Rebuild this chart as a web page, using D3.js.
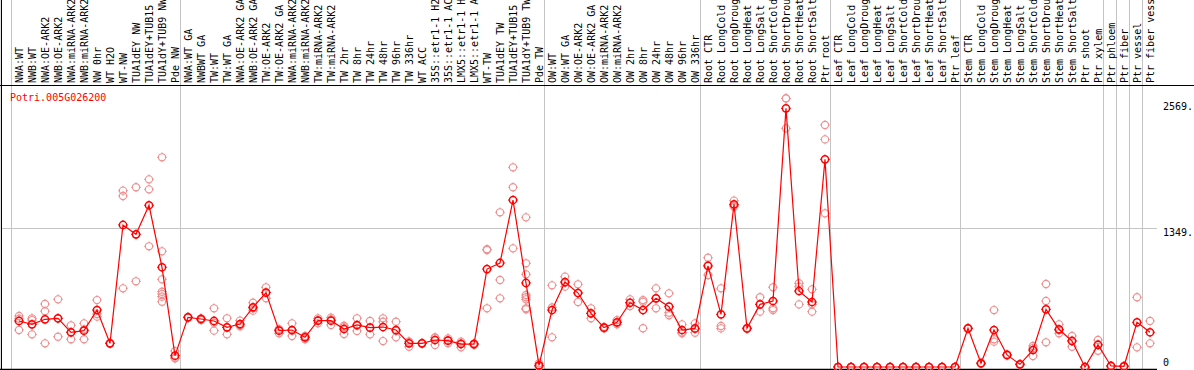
<!DOCTYPE html>
<html>
<head>
<meta charset="utf-8">
<script src="https://cdn.jsdelivr.net/npm/d3@7"></script>
<style>
  body { margin: 0; background: #fff; }
  text { font-family: "DejaVu Sans Mono", monospace; font-size: 10px; }
</style>
</head>
<body>
<svg id="chart" width="1194" height="370"></svg>
<script>
// Data
var geneName = "Potri.005G026200";

var samples = [
  "NWA:WT", "NWB:WT", "NWA:OE-ARK2", "NWB:OE-ARK2", "NWA:miRNA-ARK2", "NWB:miRNA-ARK2",
  "NW 0hr", "WT H2O", "WT-NW", "TUA1dEY NW", "TUA1dEY+TUB15 NW", "TUA1dY+TUB9 NW", "Pde NW",
  "NWA:WT GA", "NWBWT GA", "TW:WT", "TW:WT GA", "NWA:OE-ARK2 GA", "NWB:OE-ARK2 GA",
  "TW:OE-ARK2", "TW:OE-ARK2 GA", "NWA:miRNA-ARK2 GA", "NWB:miRNA-ARK2 GA", "TW:miRNA-ARK2",
  "TW:miRNA-ARK2 GA", "TW 2hr", "TW 8hr", "TW 24hr", "TW 48hr", "TW 96hr", "TW 336hr",
  "WT ACC", "35S::etr1-1 H2O", "35S::etr1-1 ACC", "LMX5::etr1-1 H2O", "LMX5::etr1-1 ACC",
  "WT-TW", "TUA1dEY TW", "TUA1dEY+TUB15 TW", "TUA1dY+TUB9 TW", "Pde TW",
  "OW:WT", "OW:WT GA", "OW:OE-ARK2", "OW:OE-ARK2 GA", "OW:miRNA-ARK2", "OW:miRNA-ARK2 GA",
  "OW 2hr", "OW 8hr", "OW 24hr", "OW 48hr", "OW 96hr", "OW 336hr",
  "Root CTR", "Root LongCold", "Root LongDrought", "Root LongHeat", "Root LongSalt",
  "Root ShortCold", "Root ShortDrought", "Root ShortHeat", "Root ShortSalt", "Ptr root",
  "Leaf CTR", "Leaf LongCold", "Leaf LongDrought", "Leaf LongHeat", "Leaf LongSalt",
  "Leaf ShortCold", "Leaf ShortDrought", "Leaf ShortHeat", "Leaf ShortSalt", "Ptr leaf",
  "Stem CTR", "Stem LongCold", "Stem LongDrought", "Stem LongHeat", "Stem LongSalt",
  "Stem ShortCold", "Stem ShortDrought", "Stem ShortHeat", "Stem ShortSalt",
  "Ptr shoot", "Ptr xylem", "Ptr phloem", "Ptr fiber", "Ptr vessel", "Ptr fiber vessel"
];

// first sample index of every group (separator lines)
var groupStarts = [0, 13, 41, 53, 63, 73, 84, 85, 86, 87, 88];

var means = [
  447, 414, 463, 473, 337, 353, 553, 230, 1379, 1288, 1570, 968, 110,
  482, 466, 447, 385, 417, 580, 722, 353, 359, 288, 450, 450, 369, 408, 382, 388, 359, 230,
  230, 262, 256, 223, 223, 951, 1010, 1621, 816, 16,
  553, 825, 718, 521, 382, 434, 624, 553, 667, 586, 359, 375,
  981, 511, 1579, 375, 608, 641, 2511, 738, 631, 2016,
  0, 0, 0, 0, 0, 0, 0, 0, 0, 0,
  375, 36, 359, 117, 26, 165, 560, 366, 252,
  0, 214, 10, 7, 434, 337
];

var replicates = [
  [495, 469, 359], [473, 456, 317], [612, 541, 230], [657, 294, 470], [405, 269, 337],
  [424, 269, 365], [650, 515, 489], [230, 232, 228], [1712, 1660, 764], [1745, 832, 1288],
  [1822, 1725, 1172], [2036, 1123, 851, 731, 709, 683, 634], [155, 84, 90],
  [482, 486, 478], [473, 456, 470], [570, 430, 353], [473, 317, 385], [450, 408, 395],
  [624, 547, 570], [774, 667, 725], [366, 327, 366], [424, 301, 352], [301, 269, 294],
  [473, 424, 453], [479, 408, 463], [401, 320, 386], [473, 350, 401], [447, 317, 382],
  [473, 440, 252], [440, 288, 349], [246, 197, 247],
  [228, 232, 230], [288, 214, 284], [278, 230, 260], [246, 191, 232], [230, 214, 225],
  [1143, 1136, 570], [1502, 845, 667], [1939, 1745, 1152],
  [1453, 1007, 900, 699, 677, 657, 570, 560], [36, 3, 9],
  [793, 288, 578], [877, 780, 818], [803, 631, 720], [570, 473, 520], [390, 375, 381],
  [456, 414, 432], [657, 592, 623], [650, 634, 376], [764, 570, 667], [715, 527, 502],
  [414, 327, 336], [424, 333, 368],
  [1061, 893, 990], [764, 398, 375], [1615, 1566, 1556], [380, 370, 375], [677, 537, 610],
  [774, 570, 553], [2608, 2317, 2608], [813, 780, 608], [754, 608, 537], [2350, 2210, 1492],
  [0, 0, 0], [0, 0, 0], [0, 0, 0], [0, 0, 0], [0, 0, 0],
  [0, 0, 0], [0, 0, 0], [0, 0, 0], [0, 0, 0], [0, 0, 0],
  [380, 370, 375], [40, 30, 38], [553, 269, 246], [120, 110, 121], [30, 20, 28],
  [204, 107, 184], [806, 641, 240], [414, 327, 357], [301, 197, 258],
  [0, 0, 0], [262, 158, 222], [10, 12, 8], [7, 12, 2], [677, 191], [447, 230]
];

var yTicks = [2569, 1349, 0];
var yGrid = [1349];

// Dimensions
var width = 1194;
var height = 370;
var plotTop = 85;
var plotBottom = 369;
var plotRight = 1156;

var svg = d3.select("#chart");

var x = d3.scaleBand()
  .domain(d3.range(samples.length))
  .range([11, 11 + 13 * samples.length]);

function cx(i) { return x(i) + 8; }

var y = d3.scaleLinear()
  .domain([0, 2569])
  .range([367, 102.4]);

// group separators, they run through the label area too
svg.append("g")
  .selectAll("line")
  .data(groupStarts)
  .enter().append("line")
  .attr("x1", function(d) { return x(d) + 0.5; })
  .attr("x2", function(d) { return x(d) + 0.5; })
  .attr("y1", 0)
  .attr("y2", height)
  .attr("stroke", "#c4c4c4")
  .attr("stroke-width", 1);

svg.append("g")
  .selectAll("line")
  .data(yGrid)
  .enter().append("line")
  .attr("x1", 1)
  .attr("x2", plotRight + 1)
  .attr("y1", function(d) { return Math.round(y(d)) + 0.5; })
  .attr("y2", function(d) { return Math.round(y(d)) + 0.5; })
  .attr("stroke", "#c4c4c4");

// frame
svg.append("line")
  .attr("x1", 0).attr("x2", width)
  .attr("y1", plotTop + 0.5).attr("y2", plotTop + 0.5)
  .attr("stroke", "#000");
svg.append("line")
  .attr("x1", 1.5).attr("x2", 1.5)
  .attr("y1", 0).attr("y2", height)
  .attr("stroke", "#000");
svg.append("line")
  .attr("x1", 0).attr("x2", plotRight + 1)
  .attr("y1", plotBottom + 0.5).attr("y2", plotBottom + 0.5)
  .attr("stroke", "#000")
  .attr("stroke-width", 1.5);

// sample labels
svg.append("g")
  .selectAll("text")
  .data(samples)
  .enter().append("text")
  .attr("transform", function(d, i) {
    return "translate(" + (cx(i) + 3.5) + "," + 83 + ") rotate(-90)";
  })
  .attr("fill", "#000")
  .text(function(d) { return d; });

// right value labels
svg.append("g")
  .selectAll("text")
  .data(yTicks)
  .enter().append("text")
  .attr("x", 1163)
  .attr("y", function(d) { return d === 0 ? 366 : y(d) + 8; })
  .attr("fill", "#000")
  .text(function(d) { return d === 0 ? "0" : d + "."; });

svg.append("text")
  .attr("x", 10)
  .attr("y", 101)
  .attr("fill", "#ff0000")
  .text(geneName);

// ring with little ticks, like the original markers
function marker(g, px, py, color, sw) {
  var r = 3.6;
  g.append("circle")
    .attr("cx", px).attr("cy", py).attr("r", r)
    .attr("fill", "none")
    .attr("stroke", color)
    .attr("stroke-width", sw);
  [[0, -1], [0, 1], [-1, 0], [1, 0]].forEach(function(v) {
    g.append("line")
      .attr("x1", px + v[0] * (r - 0.5)).attr("y1", py + v[1] * (r - 0.5))
      .attr("x2", px + v[0] * (r + 1.3)).attr("y2", py + v[1] * (r + 1.3))
      .attr("stroke", color)
      .attr("stroke-width", 1);
  });
}

var reps = svg.append("g").attr("class", "reps");
replicates.forEach(function(list, i) {
  list.forEach(function(v) {
    marker(reps, cx(i), y(v), "#ee9090", 1.1);
  });
});

var line = d3.line()
  .x(function(d, i) { return cx(i); })
  .y(function(d) { return y(d); });

svg.append("path")
  .datum(means)
  .attr("d", line)
  .attr("fill", "none")
  .attr("stroke", "#ff0000")
  .attr("stroke-width", 1.2);

var meanG = svg.append("g").attr("class", "means");
means.forEach(function(v, i) {
  marker(meanG, cx(i), y(v), "#ff0000", 1.5);
});
</script>
</body>
</html>
